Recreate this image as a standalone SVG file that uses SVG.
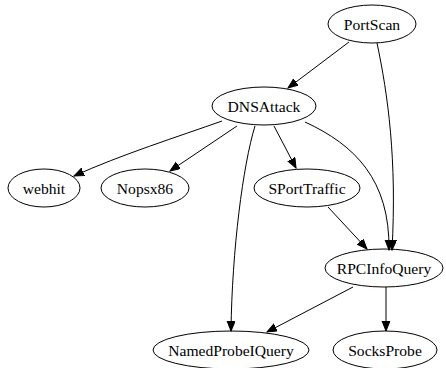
<svg xmlns="http://www.w3.org/2000/svg" width="446" height="368" viewBox="0 0 446 368">
  <style>
    .node ellipse { fill: none; stroke: #000; stroke-width: 1; }
    .node text { font-size: 15.6px; fill: #000; text-anchor: middle; }
    .edge { fill: none; stroke: #000; stroke-width: 1; marker-end: url(#arrow); }
  </style>
  <defs>
    <marker id="arrow" markerUnits="userSpaceOnUse" markerWidth="11" markerHeight="9" refX="10" refY="4" orient="auto">
      <path d="M0,0 L10,4 L0,8 z" fill="#000" stroke="#000" stroke-width="1"/>
    </marker>
  </defs>
  <rect width="446" height="368" fill="#fff"/>

  <!-- connectors -->
  <g id="edges">
    <path class="edge" d="M349,42 L288,88"/>
    <path class="edge" d="M377,43 C388,95 397,160 392,250"/>
    <path class="edge" d="M222,121 C180,136 120,155 74,176"/>
    <path class="edge" d="M237,126 L170,171"/>
    <path class="edge" d="M274,126 L296,168"/>
    <path class="edge" d="M255,126 C243,165 232,250 231,331"/>
    <path class="edge" d="M305,122 C355,145 390,180 389,250"/>
    <path class="edge" d="M328,207 L367,249"/>
    <path class="edge" d="M353,287 L267,332"/>
    <path class="edge" d="M386,287 L386,331"/>
  </g>

  <!-- nodes -->
  <g font-family="Liberation Serif, serif">
    <g id="PortScan" class="node">
      <ellipse cx="372" cy="24" rx="44" ry="19"/>
      <text x="372" y="29.5">PortScan</text>
    </g>
    <g id="DNSAttack" class="node">
      <ellipse cx="264" cy="106" rx="52" ry="19"/>
      <text x="264" y="111.5">DNSAttack</text>
    </g>
    <g id="webhit" class="node">
      <ellipse cx="44" cy="188" rx="36" ry="19"/>
      <text x="44" y="193.5">webhit</text>
    </g>
    <g id="Nopsx86" class="node">
      <ellipse cx="145" cy="188" rx="44" ry="19"/>
      <text x="145" y="193.5">Nopsx86</text>
    </g>
    <g id="SPortTraffic" class="node">
      <ellipse cx="307" cy="188" rx="53" ry="19"/>
      <text x="307" y="193.5">SPortTraffic</text>
    </g>
    <g id="RPCInfoQuery" class="node">
      <ellipse cx="384" cy="268" rx="59" ry="19"/>
      <text x="384" y="273.5">RPCInfoQuery</text>
    </g>
    <g id="NamedProbeIQuery" class="node">
      <ellipse cx="231" cy="350" rx="78" ry="19"/>
      <text x="231" y="355.5">NamedProbeIQuery</text>
    </g>
    <g id="SocksProbe" class="node">
      <ellipse cx="385" cy="350" rx="52" ry="19"/>
      <text x="385" y="355.5">SocksProbe</text>
    </g>
  </g>
</svg>
